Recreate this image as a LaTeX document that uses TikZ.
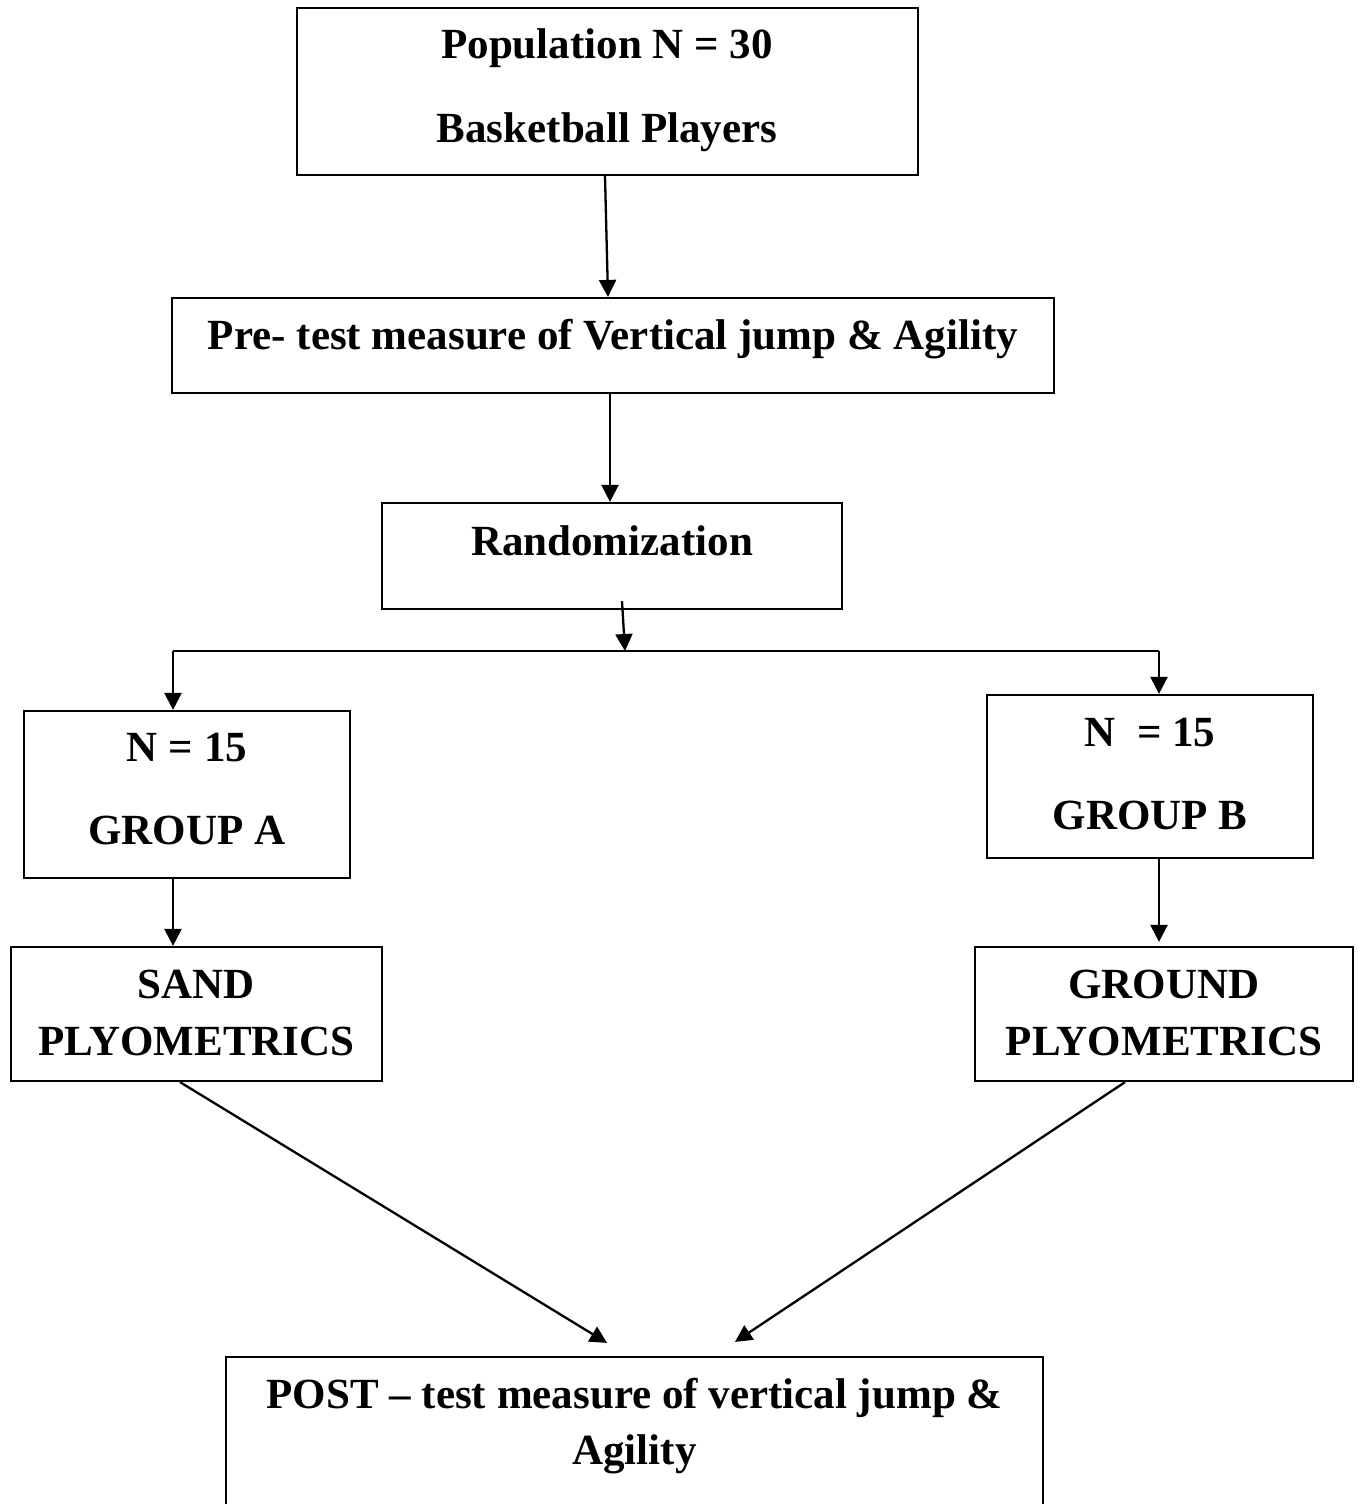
\documentclass[tikz,border=0pt]{standalone}
\usepackage{fontspec}
\setmainfont{Liberation Serif}
\usetikzlibrary{arrows.meta}
\begin{document}
\begin{tikzpicture}[x=1pt,y=-1pt,
  box/.style={draw,line width=2.2pt,inner sep=0pt},
  txt/.style={font=\fontsize{43}{50}\selectfont\bfseries,inner sep=0pt,anchor=base},
  arr/.style={line width=2.3pt,-{Triangle[length=17pt,width=17pt]}},
  conn/.style={line width=2.3pt}]
\useasboundingbox (0,0) rectangle (1364,1504);
% boxes
\node[box,minimum width=621pt,minimum height=167pt] (pop) at (607.5,91.5) {};
\node[box,minimum width=882pt,minimum height=95pt] (pre) at (613,345.5) {};
\node[box,minimum width=460pt,minimum height=106pt] (rnd) at (612,556) {};
\node[box,minimum width=326pt,minimum height=167pt] (ga) at (187,794.5) {};
\node[box,minimum width=326pt,minimum height=163pt] (gb) at (1150,776.5) {};
\node[box,minimum width=371pt,minimum height=134pt] (sand) at (196.5,1014) {};
\node[box,minimum width=378pt,minimum height=134pt] (ground) at (1164,1014) {};
\node[box,minimum width=817pt,minimum height=166pt] (post) at (634.5,1440) {};
% texts
\node[txt] (t1) at (607,59) {Population N = 30};
\node[txt] (t2) at (607,142) {Basketball Players};
\node[txt] (t3) at (613,349) {Pre- test measure of Vertical jump \& Agility};
\node[txt] (t4) at (612,555) {Randomization};
\node[txt] (t5) at (187,761) {N = 15};
\node[txt] (t6) at (187,844) {GROUP A};
\node[txt] (t7) at (1150,746) {N\ \ = 15};
\node[txt] (t8) at (1150,829) {GROUP B};
\node[txt] (t9) at (196.5,998) {SAND};
\node[txt] (t10) at (196.5,1055) {PLYOMETRICS};
\node[txt] (t11) at (1164,998) {GROUND};
\node[txt] (t12) at (1164,1055) {PLYOMETRICS};
\node[txt] (t13) at (634.5,1408) {POST -- test measure of vertical jump \&};
\node[txt] (t14) at (634.5,1464) {Agility};
% connectors
\coordinate (split) at (625,651);
\coordinate (la) at (173,651);
\coordinate (rb) at (1159,651);
\draw[arr] ([xshift=-2.5pt]pop.south) -- ([xshift=-5pt]pre.north);
\draw[arr] ([xshift=-3pt]pre.south) -- ([xshift=-2pt]rnd.north);
\draw[arr] ([xshift=10pt,yshift=9pt]rnd.south) -- (split);
\draw[conn] (la) -- (rb);
\draw[arr] (la) -- (la |- ga.north);
\draw[arr] (rb) -- (rb |- gb.north);
\draw[arr] (la |- ga.south) -- (la |- sand.north);
\draw[arr] (rb |- gb.south) -- ([yshift=4pt]rb |- ground.north);
\draw[arr] ([xshift=-16.5pt]sand.south) -- ([xshift=-27.5pt,yshift=13pt]post.north);
\draw[arr] ([xshift=-39pt]ground.south) -- ([xshift=100.5pt,yshift=14pt]post.north);
\end{tikzpicture}
\end{document}
